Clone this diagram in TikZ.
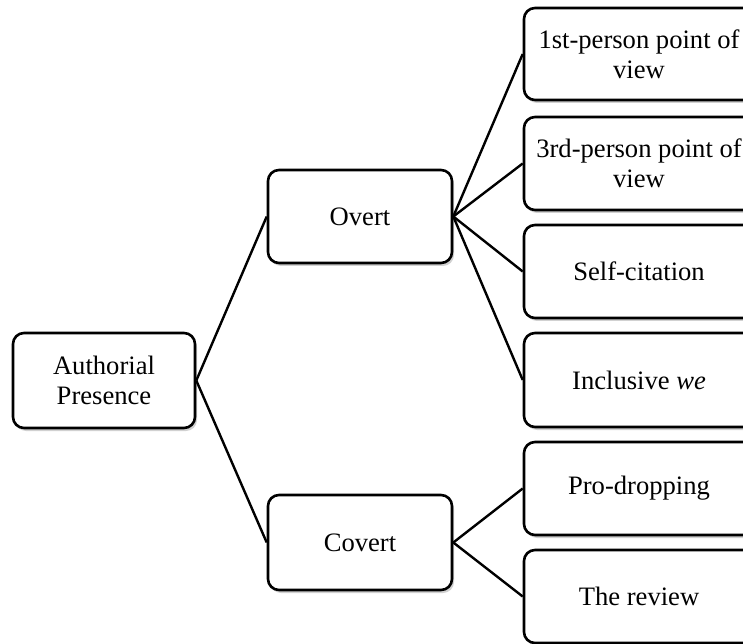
\documentclass[tikz,border=0pt]{standalone}
\usepackage{fontspec}
\setmainfont{Liberation Serif}
\usetikzlibrary{shadows}
\begin{document}
\begin{tikzpicture}[x=1pt,y=1pt,
  box/.style={draw=black, line width=2.6pt, rounded corners=11pt, fill=white,
    align=center, inner sep=0pt,
    font=\fontsize{26.6}{30}\selectfont,
    drop shadow={shadow xshift=2pt, shadow yshift=-3pt, fill=black, opacity=0.18}},
  link/.style={line width=2.4pt, black}]
\useasboundingbox (0,0) rectangle (743,643);
\clip (0,0) rectangle (743,643);
\node[box, minimum width=182pt, minimum height=95pt] (ap) at (104,262.5) {Authorial\\Presence};
\node[box, minimum width=184pt, minimum height=93pt] (ov) at (360,426.5) {Overt};
\node[box, minimum width=184pt, minimum height=95pt] (cv) at (360,100.5) {Covert};
\node[box, minimum width=230pt, minimum height=92pt] (b1) at (639,589) {1st-person point of\\view};
\node[box, minimum width=230pt, minimum height=93pt] (b2) at (639,479.5) {3rd-person point of\\view};
\node[box, minimum width=230pt, minimum height=93pt] (b3) at (639,371.5) {Self-citation};
\node[box, minimum width=230pt, minimum height=94pt] (b4) at (639,263) {Inclusive \textit{we}};
\node[box, minimum width=230pt, minimum height=93pt] (b5) at (639,154.5) {Pro-dropping};
\node[box, minimum width=230pt, minimum height=93pt] (b6) at (639,46.5) {The review};
\draw[link] (ap.east) -- (ov.west);
\draw[link] (ap.east) -- (cv.west);
\draw[link] (ov.east) -- (b1.west);
\draw[link] (ov.east) -- (b2.west);
\draw[link] (ov.east) -- (b3.west);
\draw[link] (ov.east) -- (b4.west);
\draw[link] (cv.east) -- (b5.west);
\draw[link] (cv.east) -- (b6.west);
\end{tikzpicture}
\end{document}
